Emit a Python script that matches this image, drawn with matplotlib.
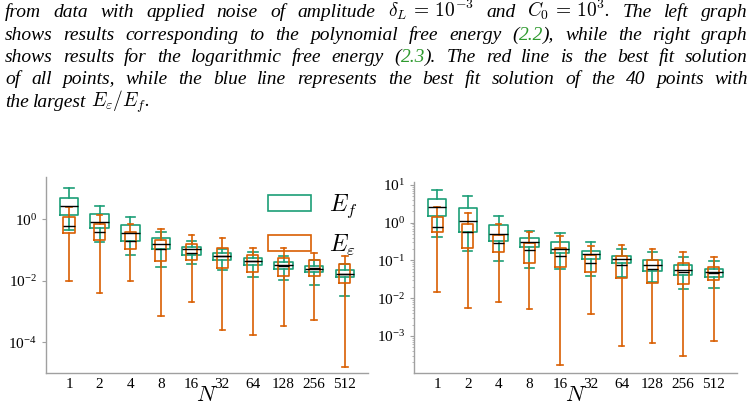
import numpy as np
import matplotlib
matplotlib.use("Agg")
import matplotlib.pyplot as plt
from matplotlib.patches import Rectangle
from matplotlib.ticker import LogLocator, NullLocator

plt.rcParams['font.family'] = ['Liberation Serif', 'DejaVu Serif']
plt.rcParams['mathtext.fontset'] = 'cm'

# categories
N_labels = ['1', '2', '4', '8', '16', '32', '64', '128', '256', '512']

# box statistics as log10 values: whislo, q1, median, q3, whishi
# left graph: polynomial free energy
poly_Ef_lo = [-0.36, -0.74, -1.15, -1.54, -1.45, -1.66, -1.86, -1.97, -2.13, -2.51]
poly_Ef_q1 = [0.14, -0.295, -0.72, -0.95, -1.15, -1.32, -1.48, -1.61, -1.72, -1.88]
poly_Ef_med = [0.44, -0.07, -0.44, -0.80, -0.98, -1.18, -1.36, -1.50, -1.60, -1.77]
poly_Ef_q3 = [0.71, 0.16, -0.18, -0.60, -0.89, -1.09, -1.27, -1.39, -1.51, -1.65]
poly_Ef_hi = [1.02, 0.44, 0.075, -0.41, -0.69, -0.97, -1.06, -1.20, -1.33, -1.45]

poly_Ee_lo = [-2.00, -2.41, -2.01, -3.13, -2.69, -3.60, -3.78, -3.48, -3.26, -4.80]
poly_Ee_q1 = [-0.46, -0.67, -0.98, -1.34, -1.31, -1.57, -1.70, -1.83, -1.84, -2.08]
poly_Ee_med = [-0.22, -0.42, -0.69, -0.98, -1.11, -1.18, -1.36, -1.52, -1.58, -1.77]
poly_Ee_q3 = [0.085, -0.16, -0.41, -0.66, -0.79, -0.93, -1.15, -1.25, -1.33, -1.46]
poly_Ee_hi = [0.40, 0.13, -0.14, -0.31, -0.50, -0.62, -0.92, -0.94, -1.09, -1.18]

# right graph: logarithmic free energy
log_Ef_lo = [-0.39, -0.76, -1.01, -1.21, -1.23, -1.42, -1.43, -1.58, -1.75, -1.74]
log_Ef_q1 = [0.19, -0.25, -0.49, -0.64, -0.81, -0.97, -1.07, -1.28, -1.38, -1.43]
log_Ef_med = [0.41, 0.04, -0.30, -0.50, -0.70, -0.82, -0.96, -1.12, -1.25, -1.30]
log_Ef_q3 = [0.62, 0.38, -0.07, -0.41, -0.50, -0.74, -0.87, -0.99, -1.11, -1.22]
log_Ef_hi = [0.88, 0.72, 0.19, -0.22, -0.26, -0.52, -0.70, -0.78, -0.92, -1.01]

log_Ee_lo = [-1.83, -2.27, -2.09, -2.29, -3.76, -2.41, -3.27, -3.19, -3.53, -3.12]
log_Ee_q1 = [-0.25, -0.67, -0.78, -1.07, -1.18, -1.30, -1.47, -1.60, -1.63, -1.52]
log_Ee_med = [-0.10, -0.24, -0.53, -0.73, -0.88, -1.07, -1.12, -1.22, -1.30, -1.32]
log_Ee_q3 = [0.16, -0.03, -0.33, -0.53, -0.66, -0.85, -0.87, -0.99, -1.07, -1.16]
log_Ee_hi = [0.42, 0.27, -0.04, -0.25, -0.36, -0.62, -0.60, -0.69, -0.78, -0.92]

c_f = '#1b9e77'
c_e = '#d95f02'
c_ref = '#2e9a2e'


def make_stats(lo, q1, med, q3, hi):
    stats = []
    for a, b, c, d, e in zip(lo, q1, med, q3, hi):
        stats.append(dict(whislo=10**a, q1=10**b, med=10**c, q3=10**d,
                          whishi=10**e, fliers=[]))
    return stats


def draw_boxes(ax, stats, color, width):
    props = dict(color=color, linewidth=1.2)
    ax.bxp(stats, positions=np.arange(len(stats)), widths=width,
           showfliers=False, manage_ticks=False,
           boxprops=props, whiskerprops=props, capprops=props,
           medianprops=dict(color='black', linewidth=1.0))


def style_axes(ax):
    ax.set_yscale('log')
    for s in ['top', 'right']:
        ax.spines[s].set_visible(False)
    for s in ['left', 'bottom']:
        ax.spines[s].set_color('#a0a0a0')
        ax.spines[s].set_linewidth(1.0)
    ax.set_xlim(-0.75, 9.75)
    ax.set_xticks(np.arange(len(N_labels)))
    ax.set_xticklabels(N_labels)
    ax.tick_params(axis='both', which='both', colors='#a0a0a0',
                   labelcolor='black', labelsize=11, length=3, width=0.8)
    ax.tick_params(axis='x', length=0)
    ax.tick_params(axis='y', which='minor', length=1.5, width=0.5)
    ax.set_xlabel('$N$', fontsize=16, labelpad=-2.5)


fig = plt.figure(figsize=(7.52, 4.13), dpi=100)

ax1 = fig.add_axes([0.0612, 0.0969, 0.428, 0.4746])
draw_boxes(ax1, make_stats(poly_Ef_lo, poly_Ef_q1, poly_Ef_med, poly_Ef_q3, poly_Ef_hi), c_f, 0.6)
draw_boxes(ax1, make_stats(poly_Ee_lo, poly_Ee_q1, poly_Ee_med, poly_Ee_q3, poly_Ee_hi), c_e, 0.36)
style_axes(ax1)
ax1.set_ylim(10**-5.0, 10**1.38)
ax1.yaxis.set_major_locator(LogLocator(base=100.0))
ax1.yaxis.set_minor_locator(NullLocator())

h_f = Rectangle((0, 0), 1, 1, facecolor='none', edgecolor=c_f, linewidth=1.2)
h_e = Rectangle((0, 0), 1, 1, facecolor='none', edgecolor=c_e, linewidth=1.2)
ax1.legend([h_f, h_e], ['$E_f$', '$E_\\varepsilon$'], loc='upper left',
           bbox_to_anchor=(0.69, 0.92), frameon=False, fontsize=17,
           handlelength=1.8, handleheight=0.7, labelspacing=0.55,
           handletextpad=0.8, borderpad=0, borderaxespad=0)

ax2 = fig.add_axes([0.5505, 0.0969, 0.4295, 0.4625])
draw_boxes(ax2, make_stats(log_Ef_lo, log_Ef_q1, log_Ef_med, log_Ef_q3, log_Ef_hi), c_f, 0.6)
draw_boxes(ax2, make_stats(log_Ee_lo, log_Ee_q1, log_Ee_med, log_Ee_q3, log_Ee_hi), c_e, 0.36)
style_axes(ax2)
ax2.set_ylim(10**-3.98, 10**1.08)

# caption text above the graphs (justified lines)
caption = [
    ([[("from", 'k')], [("data", 'k')], [("with", 'k')], [("applied", 'k')], [("noise", 'k')],
      [("of", 'k')], [("amplitude", 'k')], [("$\\delta_L\\,=\\,10^{-3}$", 'k')], [("and", 'k')],
      [("$C_0\\,=\\,10^3$.", 'k')], [("The", 'k')], [("left", 'k')], [("graph", 'k')]], True),
    ([[(w, 'k')] for w in "shows results corresponding to the polynomial free energy".split()]
     + [[("(", 'k'), ("2.2", c_ref), ("),", 'k')]]
     + [[(w, 'k')] for w in "while the right graph".split()], True),
    ([[(w, 'k')] for w in "shows results for the logarithmic free energy".split()]
     + [[("(", 'k'), ("2.3", c_ref), (").", 'k')]]
     + [[(w, 'k')] for w in "The red line is the best fit solution".split()], True),
    ([[(w, 'k')] for w in "of all points, while the blue line represents the best fit solution of the 40 points with".split()], True),
    ([[(w, 'k')] for w in "the largest".split()] + [[("$E_\\varepsilon/E_f$.", 'k')]], False),
]

renderer = fig.canvas.get_renderer()
W, H = fig.get_size_inches() * fig.dpi
x_left, x_right = 5, 748
baseline0, line_gap = 17, 22.5
cap_kw = dict(fontsize=14, style='italic', va='baseline', ha='left')

for i, (words, justify) in enumerate(caption):
    y = 1 - (baseline0 + i * line_gap) / H
    placed = []
    for word in words:
        pieces = []
        for s, col in word:
            t = fig.text(0, y, s, color=col, **cap_kw)
            w = t.get_window_extent(renderer).width
            pieces.append((t, w))
        placed.append(pieces)
    widths = [sum(w for _, w in p) for p in placed]
    if justify:
        gap = (x_right - x_left - sum(widths)) / (len(words) - 1)
    else:
        gap = 4.5
    x = x_left
    for pieces, ww in zip(placed, widths):
        xx = x
        for t, w in pieces:
            t.set_x(xx / W)
            xx += w
        x += ww + gap

fig.savefig('out.png', dpi=100)
